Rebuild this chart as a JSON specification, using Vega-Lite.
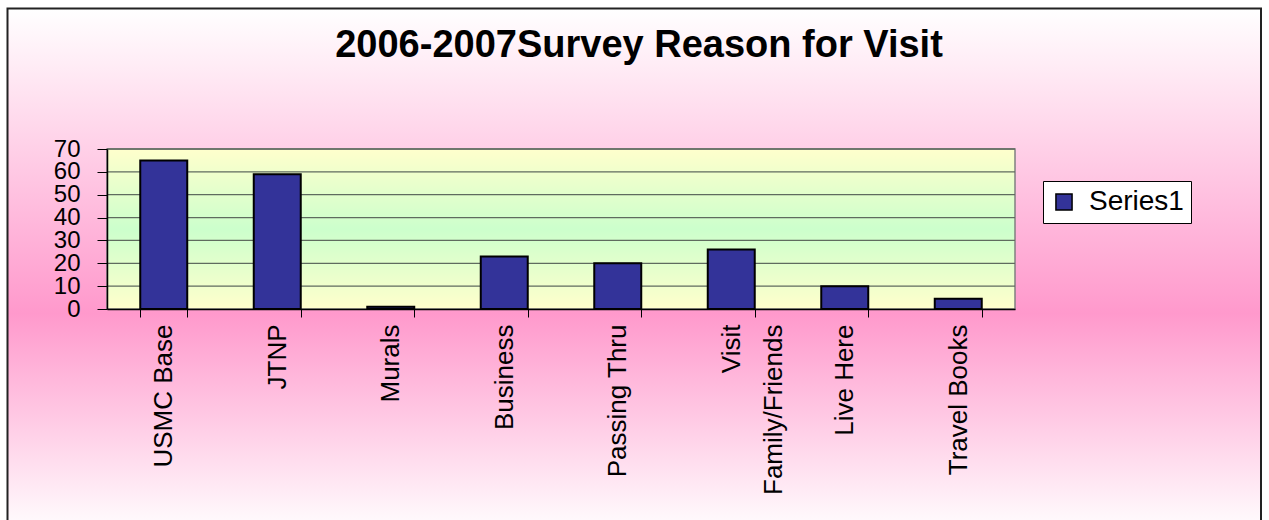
{
  "$schema": "https://vega.github.io/schema/vega-lite/v6.json",
  "width": 908,
  "height": 160,
  "autosize": {"type": "none"},
  "padding": {"left": 107, "top": 149, "right": 254, "bottom": 211},
  "background": "white",
  "config": {"view": {"stroke": null}, "font": "Liberation Sans"},
  "title": {
    "text": "2006-2007Survey Reason for Visit",
    "font": "Liberation Sans",
    "fontSize": 38,
    "fontWeight": "bold",
    "color": "black",
    "anchor": "middle",
    "frame": "group",
    "baseline": "alphabetic",
    "offset": -87,
    "dx": 78
  },
  "datasets": {
    "main": [
      {"reason": "USMC Base", "value": 65, "series": "Series1"},
      {"reason": "JTNP", "value": 59, "series": "Series1"},
      {"reason": "Murals", "value": 1, "series": "Series1"},
      {"reason": "Business", "value": 23, "series": "Series1"},
      {"reason": "Passing Thru", "value": 20, "series": "Series1"},
      {"reason": "Visit Family/Friends", "value": 26, "series": "Series1"},
      {"reason": "Live Here", "value": 10, "series": "Series1"},
      {"reason": "Travel Books", "value": 4.5, "series": "Series1"}
    ],
    "grid": [{"value": 10}, {"value": 20}, {"value": 30}, {"value": 40}, {"value": 50}, {"value": 60}, {"value": 70}],
    "one": [{}]
  },
  "layer": [
    {
      "data": {"name": "one"},
      "mark": {
        "type": "rect",
        "clip": false,
        "stroke": "#222222",
        "strokeWidth": 2,
        "fill": {
          "gradient": "linear",
          "x1": 0, "y1": 0, "x2": 0, "y2": 1,
          "stops": [
            {"offset": 0, "color": "#ffffff"},
            {"offset": 0.58, "color": "#ff99cc"},
            {"offset": 1, "color": "#ffffff"}
          ]
        }
      },
      "encoding": {
        "x": {"value": -99.5},
        "x2": {"value": 1154},
        "y": {"value": -140.5},
        "y2": {"value": 385}
      }
    },
    {
      "data": {"name": "one"},
      "mark": {
        "type": "rect",
        "stroke": "#808080",
        "strokeWidth": 1.5,
        "fill": {
          "gradient": "linear",
          "x1": 0, "y1": 0, "x2": 0, "y2": 1,
          "stops": [
            {"offset": 0, "color": "#ffffcc"},
            {"offset": 0.5, "color": "#ccffcc"},
            {"offset": 1, "color": "#ffffcc"}
          ]
        }
      },
      "encoding": {
        "x": {"value": 0},
        "x2": {"value": "width"},
        "y": {"value": 0},
        "y2": {"value": "height"}
      }
    },
    {
      "data": {"name": "grid"},
      "mark": {"type": "rule", "color": "#5f6b5f", "strokeWidth": 1.3},
      "encoding": {
        "y": {
          "field": "value",
          "type": "quantitative",
          "scale": {"domain": [0, 70], "nice": false},
          "axis": {
            "title": null,
            "zindex": 1,
            "grid": false,
            "values": [0, 10, 20, 30, 40, 50, 60, 70],
            "tickSize": 10,
            "tickColor": "black",
            "domainColor": "black",
            "domainWidth": 1.5,
            "labelFont": "Liberation Sans",
            "labelFontSize": 24,
            "labelColor": "black",
            "labelPadding": 17,
            "labelOverlap": false,
            "labelBound": false,
            "labelFlush": false
          }
        }
      }
    },
    {
      "data": {"name": "main"},
      "mark": {"type": "bar", "stroke": "black", "strokeWidth": 2},
      "encoding": {
        "x": {
          "field": "reason",
          "type": "nominal",
          "sort": null,
          "scale": {"paddingInner": 0.586, "paddingOuter": 0.293},
          "axis": {
            "title": null,
            "zindex": 1,
            "tickBand": "extent",
            "tickSize": 8,
            "tickColor": "black",
            "tickWidth": 1,
            "domainColor": "black",
            "domainWidth": 1.5,
            "labelAngle": -90,
            "labelFont": "Liberation Sans",
            "labelFontSize": 26,
            "labelColor": "black",
            "labelPadding": 7,
            "labelLimit": 0,
            "labelOverlap": false,
            "labelLineHeight": 42,
            "labelExpr": "datum.value == 'Visit Family/Friends' ? ['Visit', 'Family/Friends'] : datum.value",
            "encode": {
              "labels": {
                "update": {
                  "align": {"signal": "datum.value == 'Visit Family/Friends' ? 'center' : 'right'"},
                  "dx": {"signal": "datum.value == 'Visit Family/Friends' ? -88 : 0"}
                }
              }
            }
          }
        },
        "y": {
          "field": "value",
          "type": "quantitative",
          "scale": {"domain": [0, 70], "nice": false},
          "axis": {
            "title": null,
            "zindex": 1,
            "grid": false,
            "values": [0, 10, 20, 30, 40, 50, 60, 70],
            "tickSize": 10,
            "tickColor": "black",
            "domainColor": "black",
            "domainWidth": 1.5,
            "labelFont": "Liberation Sans",
            "labelFontSize": 24,
            "labelColor": "black",
            "labelPadding": 17,
            "labelOverlap": false,
            "labelBound": false,
            "labelFlush": false
          }
        },
        "color": {
          "field": "series",
          "type": "nominal",
          "scale": {"range": ["#333399"]},
          "legend": {
            "title": null,
            "orient": "none",
            "legendX": 936,
            "legendY": 32,
            "fillColor": "white",
            "strokeColor": "black",
            "padding": 7,
            "symbolType": "square",
            "symbolSize": 260,
            "symbolStrokeColor": "black",
            "symbolStrokeWidth": 1.5,
            "labelFont": "Liberation Sans",
            "labelFontSize": 28,
            "labelColor": "black",
            "labelOffset": 11
          }
        }
      }
    }
  ]
}
